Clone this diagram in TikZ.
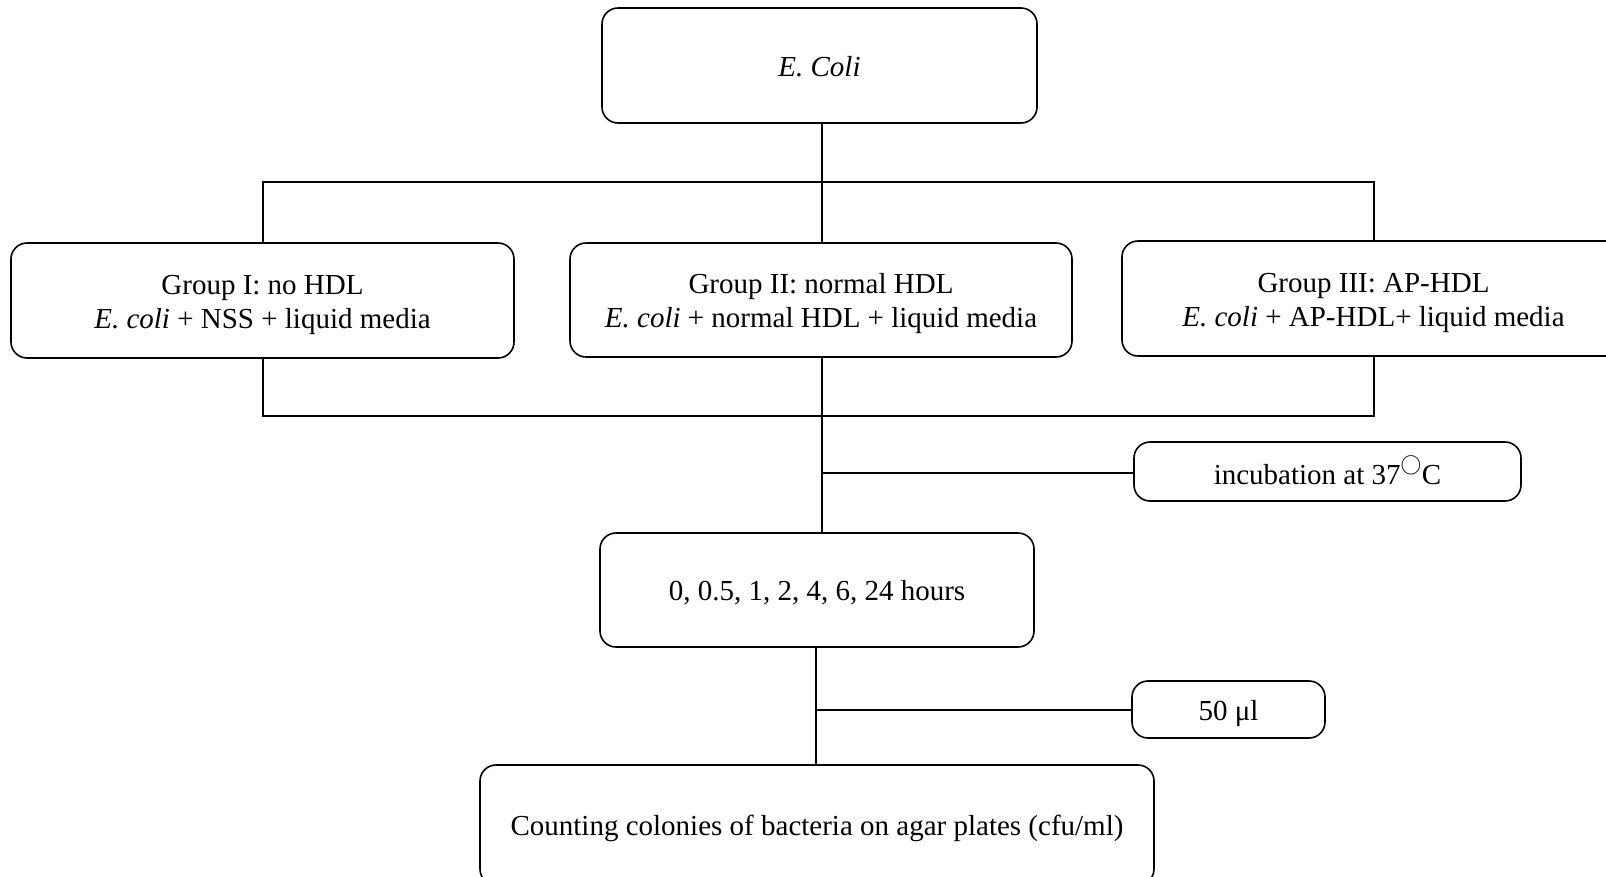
\documentclass[tikz,border=0pt]{standalone}
\usepackage{fontspec}
\setmainfont{Liberation Serif}
\newcommand{\dn}[1]{\raisebox{-4pt}[\height][\depth]{\begin{tabular}{@{}c@{}}#1\end{tabular}}}
\begin{document}
\begin{tikzpicture}[x=1pt,y=-1pt,
  box/.style={draw, line width=1.6pt, rounded corners=16pt, align=center, inner sep=0pt},
  link/.style={line width=1.6pt},
  every node/.style={font=\fontsize{29}{34}\selectfont}]
\clip (0,0) rectangle (1606,876);
\fill[white] (0,0) rectangle (1606,876);
\node[box, minimum width=435pt, minimum height=115pt] (ecoli) at (819.5,65.5) {\dn{\textit{E. Coli}}};
\node[box, minimum width=503pt, minimum height=115pt] (g1) at (262.5,300.5) {\dn{Group I: no HDL\\\textit{E. coli} + NSS + liquid media}};
\node[box, minimum width=502pt, minimum height=114pt] (g2) at (821,300) {\dn{Group II: normal HDL\\\textit{E. coli} + normal HDL + liquid media}};
\node[box, minimum width=503pt, minimum height=115pt] (g3) at (1373.5,298.5) {\dn{Group III: AP-HDL\\\textit{E. coli} + AP-HDL+ liquid media}};
\node[box, minimum width=387pt, minimum height=59pt] (inc) at (1327.5,471.5) {\dn{incubation at 37$^{\raisebox{5pt}{$\scriptstyle\bigcirc$}}$C}};
\node[box, minimum width=434pt, minimum height=114pt] (hours) at (817,590) {\dn{0, 0.5, 1, 2, 4, 6, 24 hours}};
\node[box, minimum width=193pt, minimum height=57pt] (ul) at (1228.5,709.5) {\dn{50 μl}};
\node[box, minimum width=674pt, minimum height=120pt] (count) at (817,825) {\dn{Counting colonies of bacteria on agar plates (cfu/ml)}};
% top bus
\coordinate (tl) at (263,182);
\coordinate (tm) at (822,182);
\coordinate (tr) at (1374,182);
\draw[link] (ecoli.south -| tm) -- (tm);
\draw[link] (g1.north -| tl) -- (tl) -- (tr) -- (g3.north -| tr);
\draw[link] (tm) -- (g2.north -| tm);
% bottom bus
\coordinate (bl) at (263,416);
\coordinate (bm) at (822,416);
\coordinate (br) at (1374,416);
\draw[link] (g1.south -| bl) -- (bl) -- (br) -- (g3.south -| br);
\draw[link] (g2.south -| bm) -- (bm) -- (hours.north -| bm);
\coordinate (ib) at (822,473);
\draw[link] (ib) -- (ib -| inc.west);
% lower
\coordinate (lm) at (816,710);
\draw[link] (hours.south -| lm) -- (count.north -| lm);
\draw[link] (lm) -- (ul.west |- lm);
\end{tikzpicture}
\end{document}
